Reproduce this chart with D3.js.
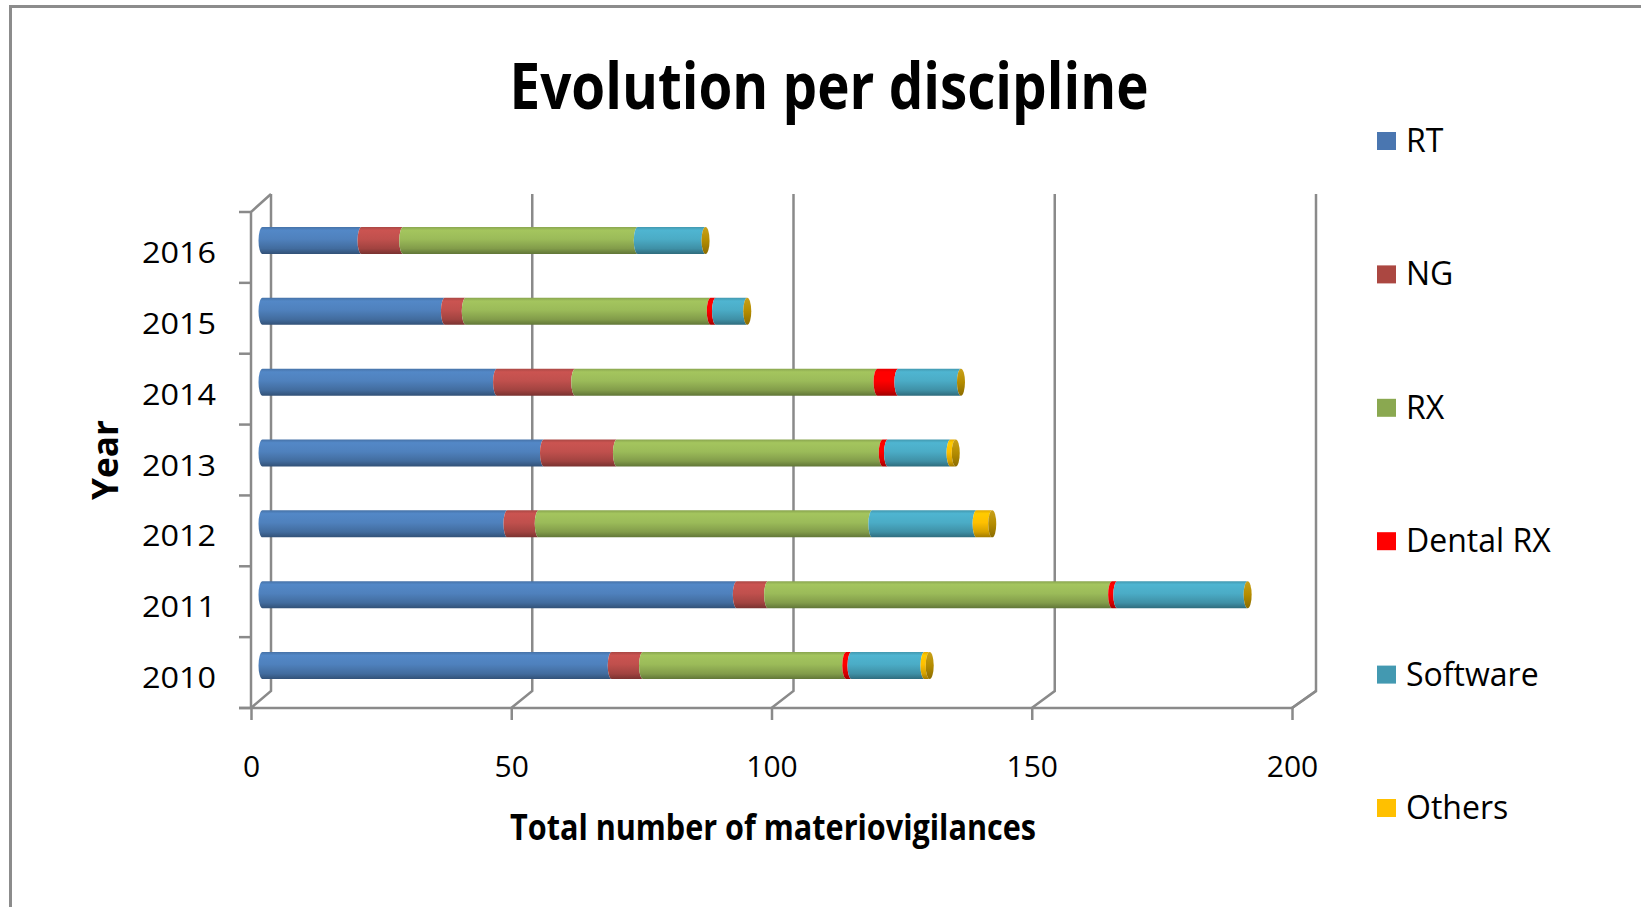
<!DOCTYPE html>
<html>
<head>
<meta charset="utf-8">
<script src="https://cdn.jsdelivr.net/npm/d3@7/dist/d3.min.js"></script>
<style>
  html, body { margin: 0; padding: 0; background: #fff; }
  svg { display: block; }
  text { font-family: "Open Sans", "DejaVu Sans", sans-serif; fill: #000; }
</style>
</head>
<body>
<svg id="chart" width="1641" height="907"></svg>
<script>
// Materiovigilance reports per discipline and year
const years = ["2010", "2011", "2012", "2013", "2014", "2015", "2016"];
const seriesNames = ["RT", "NG", "RX", "Dental RX", "Software", "Others"];
const rt       = [67, 91, 47, 54, 45, 35, 19];
const ng       = [6, 6, 6, 14, 15, 4, 8];
const rx       = [39, 66, 64, 51, 58, 47, 45];
const dentalRx = [1, 1, 0, 1, 4, 1, 0];
const software = [14, 25, 20, 12, 12, 6, 13];
const others   = [1, 0, 3, 1, 0, 0, 0];
const xTicks = [0, 50, 100, 150, 200];

const seriesValues = [rt, ng, rx, dentalRx, software, others];
const colors = ["#4f81bd", "#c0504d", "#9bbb59", "#ff0000", "#4bacc6", "#ffc000"];
const swatchColors = ["#4a76b0", "#ab4741", "#8aa850", "#ff0000", "#4399b1", "#ffc000"];

const rows = years.map((y, i) => {
  const r = { year: y };
  seriesNames.forEach((s, k) => { r[s] = seriesValues[k][i]; });
  return r;
});
const stacked = d3.stack().keys(seriesNames)(rows);

const svg = d3.select("#chart");
const defs = svg.append("defs");

// cylinder shading per series
colors.forEach((c, k) => {
  const base = d3.color(c);
  const g = defs.append("linearGradient")
    .attr("id", "cyl" + k).attr("x1", 0).attr("y1", 0).attr("x2", 0).attr("y2", 1);
  g.append("stop").attr("offset", "0%").attr("stop-color", base.darker(0.35));
  g.append("stop").attr("offset", "12%").attr("stop-color", base.brighter(0.15));
  g.append("stop").attr("offset", "45%").attr("stop-color", base);
  g.append("stop").attr("offset", "80%").attr("stop-color", base.darker(0.5));
  g.append("stop").attr("offset", "100%").attr("stop-color", base.darker(1.3));
});
const capGrad = defs.append("linearGradient")
  .attr("id", "capGrad").attr("x1", 0).attr("y1", 0).attr("x2", 0).attr("y2", 1);
capGrad.append("stop").attr("offset", "0%").attr("stop-color", "#c9a11a");
capGrad.append("stop").attr("offset", "50%").attr("stop-color", "#b48c00");
capGrad.append("stop").attr("offset", "100%").attr("stop-color", "#8c6c00");

// outer frame
svg.append("rect")
  .attr("x", 10.5).attr("y", 6.5).attr("width", 1700).attr("height", 1000)
  .attr("fill", "none").attr("stroke", "#8c8c8c").attr("stroke-width", 3);

// title
svg.append("text")
  .attr("x", 829).attr("y", 109)
  .attr("text-anchor", "middle")
  .attr("font-size", 64).attr("font-weight", "bold")
  .attr("textLength", 639).attr("lengthAdjust", "spacingAndGlyphs")
  .text("Evolution per discipline");

// scales: front edge of the floor, back wall and the bar plane in between
const xFront = d3.scaleLinear().domain([0, 200]).range([251, 1292]);
const xBack  = d3.scaleLinear().domain([0, 200]).range([271, 1316]);
const xBar   = d3.scaleLinear().domain([0, 200]).range([262.5, 1305]);
const yFront = d3.scaleBand().domain(years.slice().reverse()).range([212, 708]);
const backTop = 194, backBottom = 691;
const frontTop = 212, frontBottom = 708;
const gridColor = "#8a8a8a";

const grid = svg.append("g").attr("stroke", gridColor).attr("stroke-width", 2.5).attr("fill", "none");

// back wall gridlines, each folding down to its floor tick
grid.selectAll("path.vgrid").data(xTicks).join("path")
  .attr("class", "vgrid")
  .attr("d", t => `M${xBack(t)},${backTop}L${xBack(t)},${backBottom}L${xFront(t)},${frontBottom}`);

// side wall
grid.append("path")
  .attr("d", `M${xBack(0)},${backTop}L${xFront(0)},${frontTop}L${xFront(0)},${frontBottom}`);
// floor right edge
grid.append("path")
  .attr("d", `M${xFront(200)},${frontBottom}L${xBack(200)},${backBottom}`);

// category boundary ticks on the side wall
const bounds = yFront.domain().map(d => yFront(d)).concat([frontBottom]);
grid.selectAll("line.ytick").data(bounds).join("line")
  .attr("class", "ytick")
  .attr("x1", xFront(0) - 12).attr("x2", xFront(0))
  .attr("y1", d => d).attr("y2", d => d);

// x axis on the front floor edge
const xAxis = d3.axisBottom(xFront).tickValues(xTicks).tickSize(12).tickPadding(36).tickSizeOuter(0);
const gx = svg.append("g").attr("transform", `translate(0,${frontBottom})`).call(xAxis);
gx.select(".domain").attr("stroke", gridColor).attr("stroke-width", 2.5)
  .attr("d", `M${xFront(0) - 12},0H${xFront(200)}`);
gx.selectAll(".tick line").attr("stroke", gridColor).attr("stroke-width", 2.5);
gx.selectAll(".tick text").attr("font-size", 30).attr("font-family", "Open Sans").attr("fill", "#000");

// year labels
svg.selectAll("text.ylab").data(years).join("text")
  .attr("class", "ylab")
  .attr("x", 216).attr("y", d => yFront(d) + yFront.bandwidth() / 2 + 15.5)
  .attr("text-anchor", "end").attr("font-size", 30)
  .attr("textLength", 74).attr("lengthAdjust", "spacingAndGlyphs")
  .text(d => d);

// axis titles
svg.append("text")
  .attr("transform", "translate(118,460) rotate(-90)")
  .attr("text-anchor", "middle").attr("font-size", 36).attr("font-weight", "bold")
  .attr("textLength", 80).attr("lengthAdjust", "spacingAndGlyphs")
  .text("Year");
svg.append("text")
  .attr("x", 773).attr("y", 840)
  .attr("text-anchor", "middle").attr("font-size", 36).attr("font-weight", "bold")
  .attr("textLength", 526).attr("lengthAdjust", "spacingAndGlyphs")
  .text("Total number of materiovigilances");

// stacked cylinders
const barH = 27, capRx = 4;
const barCenter = d => yFront(d) + yFront.bandwidth() / 2 - 7;
function segPath(x0, x1, yc) {
  const t = yc - barH / 2, b = yc + barH / 2, ry = barH / 2;
  return `M${x0},${t}L${x1},${t}A${capRx},${ry} 0 0 0 ${x1},${b}L${x0},${b}A${capRx},${ry} 0 0 1 ${x0},${t}Z`;
}
const bars = svg.append("g");
stacked.forEach((layer, k) => {
  bars.append("g").selectAll("path")
    .data(layer.filter(d => d[1] > d[0]))
    .join("path")
    .attr("fill", `url(#cyl${k})`)
    .attr("d", d => segPath(xBar(d[0]), xBar(d[1]), barCenter(d.data.year)));
});
// end faces of the cylinders
const lastLayer = stacked[stacked.length - 1];
bars.append("g").selectAll("ellipse").data(lastLayer).join("ellipse")
  .attr("cx", d => xBar(d[1]))
  .attr("cy", d => barCenter(d.data.year))
  .attr("rx", capRx).attr("ry", barH / 2)
  .attr("fill", "url(#capGrad)");

// legend
const legend = svg.append("g");
const legY = d3.scalePoint().domain(seriesNames).range([141, 808]);
legend.selectAll("rect").data(seriesNames).join("rect")
  .attr("x", 1377).attr("y", d => legY(d) - 9).attr("width", 19).attr("height", 18)
  .attr("fill", (d, i) => swatchColors[i]);
legend.selectAll("text").data(seriesNames).join("text")
  .attr("x", 1406).attr("y", d => legY(d) + 11)
  .attr("font-size", 32)
  .text(d => d);
</script>
</body>
</html>
